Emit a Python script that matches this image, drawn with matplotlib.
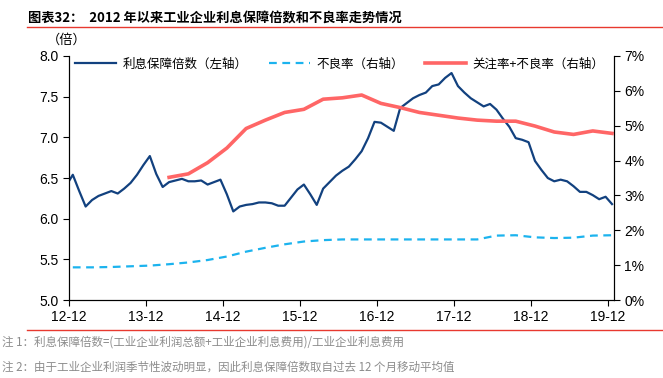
import numpy as np
import matplotlib.pyplot as plt

plt.rcParams['font.family'] = ['Liberation Sans', 'Noto Sans CJK SC', 'DejaVu Sans']

# 利息保障倍数（月度，2012-11 起）
coverage = [6.41, 6.54, 6.34, 6.15, 6.23, 6.28, 6.31, 6.34, 6.31, 6.37, 6.44,
            6.54, 6.66, 6.77, 6.55, 6.39, 6.45, 6.47, 6.49, 6.46, 6.46, 6.47,
            6.42, 6.45, 6.48, 6.30, 6.09, 6.15, 6.17, 6.18, 6.20, 6.20, 6.19,
            6.16, 6.16, 6.26, 6.36, 6.42, 6.30, 6.17, 6.37, 6.45, 6.53, 6.59,
            6.64, 6.73, 6.83, 6.99, 7.19, 7.18, 7.13, 7.08, 7.36, 7.42, 7.48,
            7.52, 7.55, 7.63, 7.65, 7.73, 7.79, 7.63, 7.55, 7.48, 7.43, 7.38,
            7.41, 7.34, 7.23, 7.13, 6.99, 6.97, 6.94, 6.71, 6.60, 6.50, 6.46,
            6.48, 6.46, 6.40, 6.33, 6.33, 6.29, 6.24, 6.27, 6.18]

# 不良率（季度，%）
npl = [0.94, 0.94, 0.95, 0.97, 0.99, 1.03, 1.08, 1.15, 1.25, 1.39, 1.50,
       1.60, 1.68, 1.72, 1.74, 1.74, 1.74, 1.74, 1.74, 1.74, 1.74, 1.74,
       1.85, 1.86, 1.80, 1.78, 1.79, 1.85, 1.86]

# 关注率+不良率（季度，%，2014-03 起）
watch_npl = [3.52, 3.62, 3.94, 4.36, 4.92, 5.16, 5.38, 5.47, 5.76, 5.80,
             5.88, 5.64, 5.52, 5.38, 5.30, 5.22, 5.16, 5.13, 5.13, 4.99,
             4.82, 4.75, 4.85, 4.78]

tick_labels = ['12-12', '13-12', '14-12', '15-12', '16-12', '17-12', '18-12', '19-12']

# 横轴按月计，0 = 2012-12
m_cov = np.arange(len(coverage)) - 1
m_npl = np.arange(len(npl)) * 3
m_watch = 15 + np.arange(len(watch_npl)) * 3

fig = plt.figure(figsize=(6.63, 3.78), dpi=100)
ax = fig.add_axes([0.104, 0.206, 0.822, 0.646])
ax2 = ax.twinx()

l1, = ax.plot(m_cov, coverage, color='#12417F', lw=1.6, label='利息保障倍数（左轴）')
l2, = ax2.plot(m_npl, npl, color='#1CB3EE', lw=1.6, ls=(0, (3.5, 2.5)), label='不良率（右轴）')
l3, = ax2.plot(m_watch, watch_npl, color='#FF6666', lw=2.6, label='关注率+不良率（右轴）')

ax.set_xlim(-0.6, 84.3)
ax.set_ylim(5.0, 8.0)
ax.set_yticks(np.arange(5.0, 8.01, 0.5))
ax.set_yticklabels([f'{v:.1f}' for v in np.arange(5.0, 8.01, 0.5)])
ax2.set_ylim(0, 7)
ax2.set_yticks(range(8))
ax2.set_yticklabels([f'{v}%' for v in range(8)])
ax.set_xticks(np.arange(8) * 12 - 0.6)
ax.set_xticklabels(tick_labels)

for a in (ax, ax2):
    a.spines['top'].set_visible(False)
    a.tick_params(labelsize=10, length=4, width=0.8, colors='black')
ax.tick_params(axis='x', pad=3)

ax.text(-0.04, 1.066, '（倍）', transform=ax.transAxes, fontsize=9.5,
        family=['Noto Sans CJK SC'], ha='left', va='center')

leg = ax.legend(handles=[l1, l2, l3], loc='upper center', bbox_to_anchor=(0.497, 1.04),
                ncol=3, frameon=False, handlelength=3.3,
                columnspacing=1.7, handletextpad=0.5,
                prop={'family': ['Noto Sans CJK SC'], 'size': 9})

fig.text(0.042, 0.954, '图表32：  2012 年以来工业企业利息保障倍数和不良率走势情况',
         fontsize=9.5, fontweight='bold', family=['Noto Sans CJK SC'], va='center')
fig.add_artist(plt.Line2D([0.041, 1.0], [0.928, 0.928], color='#E8392F', lw=1.0))
fig.add_artist(plt.Line2D([0.041, 1.0], [0.127, 0.127], color='#E8392F', lw=1.0))

fig.text(0.003, 0.095, '注 1：利息保障倍数=(工业企业利润总额+工业企业利息费用)/工业企业利息费用',
         fontsize=8.3, color='#8C8C8C', family=['Noto Sans CJK SC'], va='center')
fig.text(0.003, 0.028, '注 2：由于工业企业利润季节性波动明显，因此利息保障倍数取自过去 12 个月移动平均值',
         fontsize=8.3, color='#8C8C8C', family=['Noto Sans CJK SC'], va='center')

fig.savefig('out.png', dpi=100)
